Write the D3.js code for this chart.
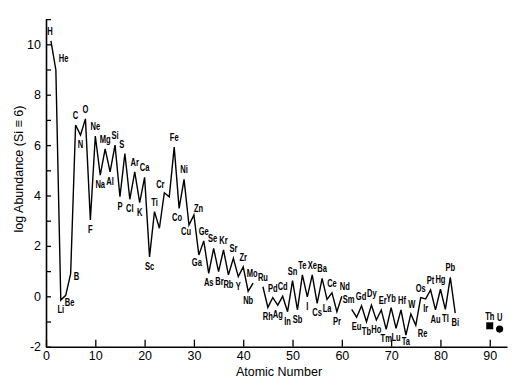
<!DOCTYPE html>
<html><head><meta charset="utf-8">
<script src="https://cdn.jsdelivr.net/npm/d3@7"></script>
<style>body{margin:0;background:#fff}</style>
</head><body>
<svg id="c" width="530" height="391"></svg>
<script>
// ---- data ----
const elements = ["H","He","Li","Be","B","C","N","O","F","Ne","Na","Mg","Al","Si","P","S","Cl","Ar","K","Ca","Sc","Ti","V","Cr","Mn","Fe","Co","Ni","Cu","Zn","Ga","Ge","As","Se","Br","Kr","Rb","Sr","Y","Zr","Nb","Mo","Tc","Ru","Rh","Pd","Ag","Cd","In","Sn","Sb","Te","I","Xe","Cs","Ba","La","Ce","Pr","Nd","Pm","Sm","Eu","Gd","Tb","Dy","Ho","Er","Tm","Yb","Lu","Hf","Ta","W","Re","Os","Ir","Pt","Au","Hg","Tl","Pb","Bi"];
const atomicNumbers = d3.range(1, 84);
const logAbundance = [10.14, 8.98, -0.15, 0.04, 0.9, 6.8, 6.4, 7.04, 3.03, 6.36,
  4.81, 5.85, 4.94, 6.0, 3.95, 5.66, 3.85, 4.94, 3.72, 4.72,
  1.56, 3.36, 2.7, 4.11, 3.95, 5.92, 3.49, 4.64, 2.83, 3.23,
  1.64, 2.2, 0.91, 1.9, 0.98, 1.84, 0.85, 1.51, 0.78, 1.17,
  0.2, 0.52, null, 0.38, -0.44, -0.05, -0.35, 0.0, -0.61, 0.62,
  -0.54, 0.85, -0.02, 0.85, -0.28, 0.71, -0.12, 0.14, -0.61, 0.0,
  null, -0.52, -0.83, -0.38, -1.01, -0.35, -0.94, -0.54, -1.31, -0.45,
  -1.27, -0.54, -1.54, -0.7, -1.15, -0.05, -0.1, 0.25, -0.54, 0.28,
  -0.52, 0.75, -0.67];
const actinides = ["Th", "U"];
const actinideZ = [90, 92];
const actinideAbundance = [-1.17, -1.3];
const unlabeled = ["Tc", "Pm", "V", "Mn"];
const xTicks = [0, 10, 20, 30, 40, 50, 60, 70, 80, 90];
const yTicks = [-2, -1, 0, 1, 2, 3, 4, 5, 6, 7, 8, 9, 10, 11];
const yTickLabels = [-2, 0, 2, 4, 6, 8, 10];

// ---- drawing ----
const svg = d3.select("#c");
const x = d3.scaleLinear().domain([0, 93.5]).range([46, 507]);
const y = d3.scaleLinear().domain([-2, 11]).range([346.7, 19.1]);
const FONT = "'Liberation Sans', Arial, Helvetica, sans-serif";

const xAxis = d3.axisBottom(x).tickValues(xTicks).tickSize(-7).tickSizeOuter(0).tickPadding(4);
const yAxis = d3.axisLeft(y).tickValues(yTicks).tickSize(-5).tickSizeOuter(0).tickPadding(5)
  .tickFormat(d => yTickLabels.includes(d) ? d : "");

const gx = svg.append("g").attr("transform", `translate(0,${y(-2)})`).call(xAxis);
const gy = svg.append("g").attr("transform", `translate(${x(0)},0)`).call(yAxis);
[gx, gy].forEach(g => {
  g.selectAll("path.domain").attr("stroke", "#000").attr("stroke-width", 1.6);
  g.selectAll(".tick line").attr("stroke", "#000").attr("stroke-width", 1.3);
  g.selectAll(".tick text").attr("fill", "#000").style("font-family", FONT).style("font-size", "12.5px");
});

svg.append("text").attr("x", 279).attr("y", 376).attr("text-anchor", "middle")
  .style("font-family", FONT).style("font-size", "12.5px").text("Atomic Number");
svg.append("text").attr("transform", "translate(23,169) rotate(-90)").attr("text-anchor", "middle")
  .style("font-family", FONT).style("font-size", "12.5px").text("log Abundance (Si \u2261 6)");

const data = elements.map((s, i) => ({s, z: atomicNumbers[i], v: logAbundance[i]}));

const line = d3.line().defined(d => d.v !== null).x(d => x(d.z)).y(d => y(d.v));
svg.append("path").datum(data).attr("d", line).attr("fill", "none")
  .attr("stroke", "#000").attr("stroke-width", 1.4).attr("stroke-linejoin", "miter");

// label placement (layout only)
const place = {
  H: {dx: -1}, He: {a: "start", dx: 3, dy: -8}, Be: {a: "start", dx: -1, dy: 11},
  B: {a: "start", dx: 3, dy: 6}, S: {dx: -3}, Cr: {dx: -4, dy: -5}, Co: {dx: -2},
  Cu: {dx: -3, dy: 10}, Zn: {a: "start", dx: 0, dy: -3}, Ga: {dx: -2, dy: 11},
  Se: {dx: -1}, Br: {dx: 1}, Nd: {dx: 3}, Re: {a: "start", dx: 2, dy: 12}, W: {dx: 1},
  Ir: {dy: 13}, Mo: {dx: -1}, Ta: {dy: 10}, Sm: {dx: -3}, Gd: {dx: -0.5}, Dy: {dx: 0.5, dy: -8},
  Er: {dx: 1.5}, Hf: {dx: 1}
};
const lab = svg.append("g").style("font-family", FONT).style("font-size", "10.5px").style("font-weight", "bold")
  .attr("fill", "#000");
function addLabel(s, px, py, anchor) {
  lab.append("text").attr("transform", `translate(${px},${py}) scale(0.72,1)`)
    .attr("text-anchor", anchor).text(s);
}
data.forEach((d, i) => {
  if (d.v === null || unlabeled.includes(d.s)) return;
  const nb = [data[i - 1], data[i + 1]].filter(n => n && n.v !== null).map(n => n.v);
  const peak = d.v >= d3.max(nb);
  const p = place[d.s] || {};
  const dy = p.dy !== undefined ? p.dy : (peak ? -6 : 13);
  addLabel(d.s, x(d.z) + (p.dx || 0), y(d.v) + dy, p.a || "middle");
});

// actinides
svg.append("rect").attr("x", x(actinideZ[0]) - 3.5).attr("y", y(actinideAbundance[0]) - 3.5)
  .attr("width", 7).attr("height", 7).attr("fill", "#000");
svg.append("circle").attr("cx", x(actinideZ[1])).attr("cy", y(actinideAbundance[1])).attr("r", 3.6).attr("fill", "#000");
actinides.forEach((s, i) => {
  addLabel(s, x(actinideZ[i]), y(actinideAbundance[i]) - (i === 0 ? 6 : 8), "middle");
});
</script>
</body></html>
